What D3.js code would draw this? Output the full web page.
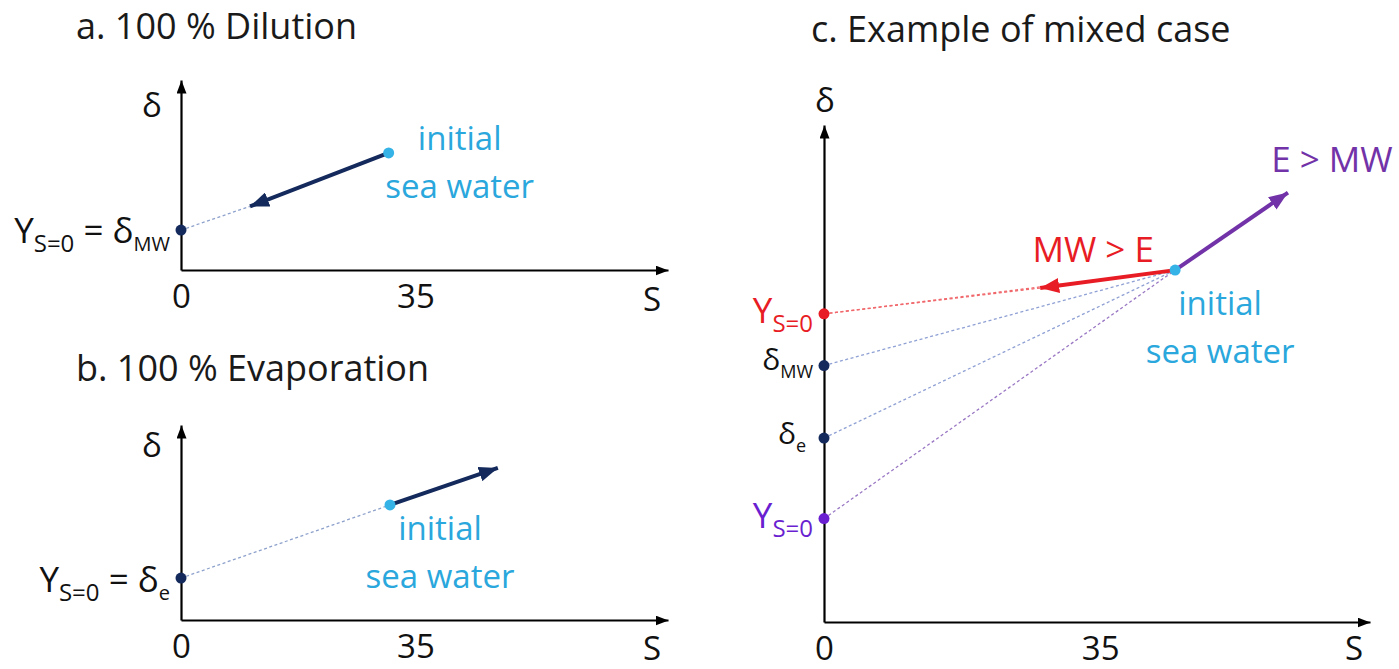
<!DOCTYPE html>
<html><head><meta charset="utf-8">
<script src="https://cdn.jsdelivr.net/npm/d3@7"></script>
<style>
body{margin:0;background:#fff;}
svg text{font-family:"Open Sans",sans-serif;}
</style></head>
<body>
<svg id="c" width="1399" height="669"></svg>
<script>
// ---------- data ----------
const tickValues = [0, 35];
const tickLabels = ["0", "35"];
const axisEndLabel = "S";
const yAxisLabel = "δ";
const titles = ["a. 100 % Dilution", "b. 100 % Evaporation", "c. Example of mixed case"];
// panel a: 100 % dilution  [S, δ]
const aInitial = [31.0, 6.16];
const aEndmember = [0, 2.1];
const aArrowEnd = [10.3, 3.35];
// panel b: 100 % evaporation
const bInitial = [31.2, 5.9];
const bEndmember = [0, 2.15];
const bArrowEnd = [47.3, 7.8];
// panel c: mixed case
const cInitial = [44.5, 17.7];
const cArrowMW = [27.4, 16.8];   // MW > E
const cArrowE = [58.8, 21.6];    // E > MW
const cIntercepts = [15.5, 12.9, 9.25, 5.2]; // Y(S=0) red, δMW, δe, Y(S=0) purple

const navy = "#142a5c", cyan = "#2aa7dc", red = "#e81c24", purple = "#7232a8";

const svg = d3.select("#c");
const defs = svg.append("defs");
function marker(id, color, w, h) {
  defs.append("marker").attr("id", id).attr("viewBox", `0 -${h/2} ${w} ${h}`)
    .attr("refX", w).attr("refY", 0).attr("markerWidth", w).attr("markerHeight", h)
    .attr("markerUnits", "userSpaceOnUse").attr("orient", "auto")
    .append("path").attr("d", `M0,-${h/2}L${w},0L0,${h/2}Z`).attr("fill", color);
}
marker("axArrow", "#000", 13, 10);
marker("navyArrow", navy, 19, 15);
marker("redArrow", red, 19, 15);
marker("purpleArrow", purple, 19, 15);

function title(txt, x, y) {
  svg.append("text").attr("x", x).attr("y", y).attr("font-size", 36).attr("fill", "#1a1a1a").text(txt);
}

function axes(g, x, y, ticks, sDy, deltaPos) {
  const xa = g.append("g").attr("transform", `translate(0,${y.range()[0]})`)
    .call(d3.axisBottom(x).tickValues(ticks).tickFormat((d, i) => tickLabels[i]).tickSize(0).tickSizeOuter(0).tickPadding(8));
  xa.select(".domain").attr("stroke", "#000").attr("stroke-width", 2.2).attr("marker-end", "url(#axArrow)");
  xa.selectAll(".tick text").attr("font-size", 33).attr("fill", "#111").attr("font-family", "Open Sans").attr("dy", "0.9em");
  const ya = g.append("g").attr("transform", `translate(${x.range()[0]},0)`)
    .call(d3.axisLeft(y).tickValues([]).tickSizeOuter(0));
  ya.select(".domain").attr("stroke", "#000").attr("stroke-width", 2.2).attr("marker-end", "url(#axArrow)");
  g.append("text").attr("x", x.range()[1] - 16).attr("y", y.range()[0] + sDy).attr("text-anchor", "middle")
    .attr("font-size", 33).attr("fill", "#111").text(axisEndLabel);
  g.append("text").attr("x", deltaPos[0]).attr("y", deltaPos[1]).attr("text-anchor", "middle")
    .attr("font-size", 33).attr("fill", "#111").text(yAxisLabel);
}

function dashed(g, p1, p2, x, y, color) {
  g.append("line").attr("x1", x(p1[0])).attr("y1", y(p1[1])).attr("x2", x(p2[0])).attr("y2", y(p2[1]))
    .attr("stroke", color).attr("stroke-width", 1.3).attr("stroke-dasharray", "3,2.5");
}
function arrow(g, p1, p2, x, y, color, m) {
  g.append("line").attr("x1", x(p1[0])).attr("y1", y(p1[1])).attr("x2", x(p2[0])).attr("y2", y(p2[1]))
    .attr("stroke", color).attr("stroke-width", 4).attr("marker-end", `url(#${m})`);
}
function dot(g, p, x, y, color, r) {
  g.append("circle").attr("cx", x(p[0])).attr("cy", y(p[1])).attr("r", r || 5.5).attr("fill", color);
}
function seaWater(g, px, py) {
  g.append("text").attr("x", px).attr("y", py).attr("text-anchor", "middle").attr("font-size", 33).attr("fill", cyan).text("initial");
  g.append("text").attr("x", px).attr("y", py + 48).attr("text-anchor", "middle").attr("font-size", 33).attr("fill", cyan).text("sea water");
}
function ysub(g, xr, yb, color, suffix, sufSub) {
  const t = g.append("text").attr("x", xr).attr("y", yb).attr("text-anchor", "end").attr("fill", color).attr("font-size", 35);
  t.append("tspan").text("Y");
  t.append("tspan").attr("font-size", 24).attr("dy", 9).text("S=0");
  if (suffix) {
    t.append("tspan").attr("dy", -9).text(" = " + suffix);
    t.append("tspan").attr("font-size", 20).attr("dy", 8).text(sufSub);
  }
}
function deltaSub(g, xr, yb, sub) {
  const t = g.append("text").attr("x", xr).attr("y", yb).attr("text-anchor", "end").attr("fill", "#111").attr("font-size", 30);
  t.append("tspan").text("δ");
  t.append("tspan").attr("font-size", 18).attr("dy", 8).text(sub);
}

// ---------- panel a ----------
title(titles[0], 76, 39);
{
  const g = svg.append("g");
  const x = d3.scaleLinear().domain([0, 72.7]).range([181, 668]);
  const y = d3.scaleLinear().domain([0, 10]).range([270, 80]);
  axes(g, x, y, tickValues, 41, [152, 117]);
  dashed(g, aEndmember, aArrowEnd, x, y, "#8ea2cc");
  arrow(g, aInitial, aArrowEnd, x, y, navy, "navyArrow");
  dot(g, aEndmember, x, y, navy);
  dot(g, aInitial, x, y, "#35b3e6");
  seaWater(g, x(aInitial[0]) + 71, y(aInitial[1]) - 3);
  ysub(g, 170, 243, "#111", "δ", "MW");
}
// ---------- panel b ----------
title(titles[1], 76, 381);
{
  const g = svg.append("g");
  const x = d3.scaleLinear().domain([0, 72.7]).range([181, 668]);
  const y = d3.scaleLinear().domain([0, 10]).range([620, 425]);
  axes(g, x, y, tickValues, 40, [152, 457]);
  dashed(g, bEndmember, bInitial, x, y, "#8ea2cc");
  arrow(g, bInitial, bArrowEnd, x, y, navy, "navyArrow");
  dot(g, bEndmember, x, y, navy);
  dot(g, bInitial, x, y, "#35b3e6");
  seaWater(g, x(bInitial[0]) + 50, y(bInitial[1]) + 35);
  ysub(g, 170, 592, "#111", "δ", "e");
}
// ---------- panel c ----------
title(titles[2], 811, 42);
{
  const g = svg.append("g");
  const x = d3.scaleLinear().domain([0, 69.2]).range([824, 1370]);
  const y = d3.scaleLinear().domain([0, 25]).range([622, 125]);
  axes(g, x, y, tickValues, 38, [825, 112]);
  const colors = ["#f0686c", "#8fa0d4", "#8fa0d4", "#9a78c4"];
  cIntercepts.forEach((v, i) => {
    const p = [0, v];
    if (i === 0) dashed(g, p, cArrowMW, x, y, colors[i]);
    dashed(g, p, cInitial, x, y, colors[i]);
  });
  arrow(g, cInitial, cArrowMW, x, y, red, "redArrow");
  arrow(g, cInitial, cArrowE, x, y, purple, "purpleArrow");
  const dotCols = [red, navy, navy, "#6a1fd0"];
  cIntercepts.forEach((v, i) => dot(g, [0, v], x, y, dotCols[i]));
  dot(g, cInitial, x, y, "#35b3e6");
  seaWater(g, x(cInitial[0]) + 45, y(cInitial[1]) + 45);
  g.append("text").attr("x", x(cArrowMW[0]) + 53).attr("y", y(cArrowMW[1]) - 26).attr("text-anchor", "middle")
    .attr("font-size", 35).attr("fill", red).text("MW > E");
  g.append("text").attr("x", x(cArrowE[0]) + 44).attr("y", y(cArrowE[1]) - 21).attr("text-anchor", "middle")
    .attr("font-size", 35).attr("fill", purple).text("E > MW");
  ysub(g, 813, y(cIntercepts[0]) + 9, red);
  deltaSub(g, 813, y(cIntercepts[1]) + 4, "MW");
  deltaSub(g, 806, y(cIntercepts[2]) + 6, "e");
  ysub(g, 813, y(cIntercepts[3]) + 9, "#6a1fd0");
}
</script>
</body></html>
